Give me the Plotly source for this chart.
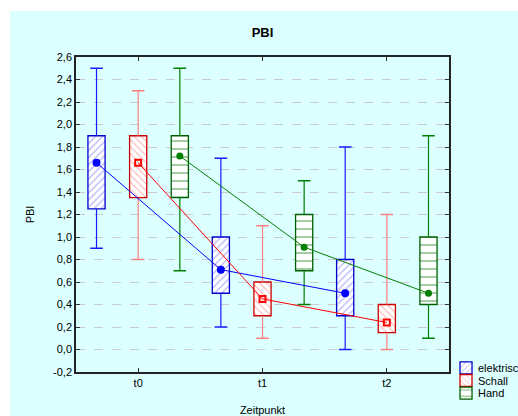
import plotly.graph_objects as go

# PBI per group and time point: whisker range, box (quartiles) and mean
times = ["t0", "t1", "t2"]
groups = ["elektrisch", "Schall", "Hand"]

el_lo = [0.9, 0.2, 0.0]
el_q1 = [1.25, 0.5, 0.3]
el_q3 = [1.9, 1.0, 0.8]
el_hi = [2.5, 1.7, 1.8]
el_mean = [1.66, 0.71, 0.50]

sc_lo = [0.8, 0.1, 0.0]
sc_q1 = [1.35, 0.3, 0.15]
sc_q3 = [1.9, 0.6, 0.4]
sc_hi = [2.3, 1.1, 1.2]
sc_mean = [1.66, 0.45, 0.24]

ha_lo = [0.7, 0.4, 0.1]
ha_q1 = [1.35, 0.7, 0.4]
ha_q3 = [1.9, 1.2, 1.0]
ha_hi = [2.5, 1.5, 1.9]
ha_mean = [1.72, 0.91, 0.50]

y_ticks = [-0.2, 0.0, 0.2, 0.4, 0.6, 0.8, 1.0, 1.2, 1.4, 1.6, 1.8, 2.0, 2.2, 2.4, 2.6]

series = [
    dict(name=groups[0], lo=el_lo, q1=el_q1, q3=el_q3, hi=el_hi, mean=el_mean,
         offset=-0.335, whisk="#1a1aff", edge="#0000cc", hatch="#6060ff", hshape="/",
         hsize=5, line="#0000ff", symbol="circle", msize=6, legend="legend", ly=0.013),
    dict(name=groups[1], lo=sc_lo, q1=sc_q1, q3=sc_q3, hi=sc_hi, mean=sc_mean,
         offset=0.0, whisk="#ff8080", edge="#cc0000", hatch="#ff7070", hshape="\\",
         hsize=5, line="#ff0000", symbol="square-open", msize=6, legend="legend2", ly=-0.027),
    dict(name=groups[2], lo=ha_lo, q1=ha_q1, q3=ha_q3, hi=ha_hi, mean=ha_mean,
         offset=0.335, whisk="#008000", edge="#005f00", hatch="#2e8b2e", hshape="-",
         hsize=8, line="#008000", symbol="circle", msize=5, legend="legend3", ly=-0.067),
]

box_w = 0.138
font = "Liberation Sans, Arial, sans-serif"

fig = go.Figure()

for s in series:
    xs = [i + s["offset"] for i in range(len(times))]
    # hatched boxes from the lower to the upper quartile; the legend swatch comes from here
    fig.add_trace(go.Bar(x=xs, base=s["q1"], y=[b - a for a, b in zip(s["q1"], s["q3"])],
                         width=box_w, name=" ", legend=s["legend"],
                         marker=dict(color="white",
                                     line=dict(color=s["edge"], width=1.3),
                                     pattern=dict(shape=s["hshape"], fgcolor=s["hatch"],
                                                  bgcolor="white", size=s["hsize"],
                                                  solidity=0.22)),
                         hoverinfo="skip"))

for s in series:
    xs = [i + s["offset"] for i in range(len(times))]
    # whisker stems outside the boxes
    wx, wy = [], []
    for x, lo, q1, q3, hi in zip(xs, s["lo"], s["q1"], s["q3"], s["hi"]):
        wx += [x, x, None, x, x, None]
        wy += [lo, q1, None, q3, hi, None]
    fig.add_trace(go.Scatter(x=wx, y=wy, mode="lines", line=dict(color=s["whisk"], width=1.2),
                             showlegend=False, hoverinfo="skip"))
    # whisker caps
    fig.add_trace(go.Scatter(x=xs + xs, y=s["lo"] + s["hi"], mode="markers",
                             marker=dict(symbol="line-ew", size=9,
                                         line=dict(color=s["whisk"], width=1.5)),
                             showlegend=False, hoverinfo="skip"))

for s in series:
    xs = [i + s["offset"] for i in range(len(times))]
    fig.add_trace(go.Scatter(x=xs, y=s["mean"], mode="lines+markers",
                             line=dict(color=s["line"], width=1),
                             marker=dict(symbol=s["symbol"], size=s["msize"], color=s["line"],
                                         line=dict(color=s["line"], width=2)),
                             showlegend=False, name=s["name"]))

# legend labels placed right next to the swatches
for s in series:
    fig.add_annotation(text=s["name"], xref="paper", yref="paper", x=1.0724, y=s["ly"],
                       xanchor="left", yanchor="middle", showarrow=False,
                       font=dict(size=11, family=font, color="black"))

# light cyan panel behind the chart
fig.add_shape(type="rect", xref="paper", yref="paper", x0=-0.177, x1=1.2, y0=-0.15, y1=1.146,
              fillcolor="#dcffff", line=dict(width=0), layer="below")

legend_style = dict(x=0.992, xanchor="left", yanchor="middle", bgcolor="rgba(0,0,0,0)",
                    font=dict(size=10, family=font, color="black"), itemwidth=30,
                    borderwidth=0)

fig.update_layout(
    width=518, height=416,
    margin=dict(l=76, r=69, t=57, b=44, autoexpand=False),
    paper_bgcolor="white", plot_bgcolor="white",
    barmode="overlay",
    font=dict(family=font, size=11, color="black"),
    title=dict(text="<b>PBI</b>", x=0.5, xref="paper", y=1 - 32 / 416, yanchor="middle",
               font=dict(size=13, family=font, color="black")),
    legend=dict(legend_style, y=series[0]["ly"]),
    legend2=dict(legend_style, y=series[1]["ly"]),
    legend3=dict(legend_style, y=series[2]["ly"]),
    showlegend=True,
)

fig.update_xaxes(range=[-0.5, 2.5], tickvals=[0, 1, 2], ticktext=times,
                 tickfont=dict(size=11),
                 ticks="inside", ticklen=4, tickcolor="#333", showgrid=False, zeroline=False,
                 showline=True, linecolor="#222", linewidth=1.5, mirror="ticks",
                 title=dict(text="Zeitpunkt", standoff=22, font=dict(size=11)))
fig.update_yaxes(range=[-0.2, 2.6], tickvals=y_ticks,
                 ticktext=[f"{v:.1f}".replace(".", ",") for v in y_ticks],
                 tickfont=dict(size=11),
                 ticks="inside", ticklen=4, tickcolor="#333",
                 showgrid=True, gridcolor="#cccccc", griddash="dash", gridwidth=1,
                 zeroline=False, showline=True, linecolor="#222", linewidth=1.5, mirror="ticks",
                 title=dict(text="PBI", standoff=16, font=dict(size=11)))

fig.write_html("out.html")
